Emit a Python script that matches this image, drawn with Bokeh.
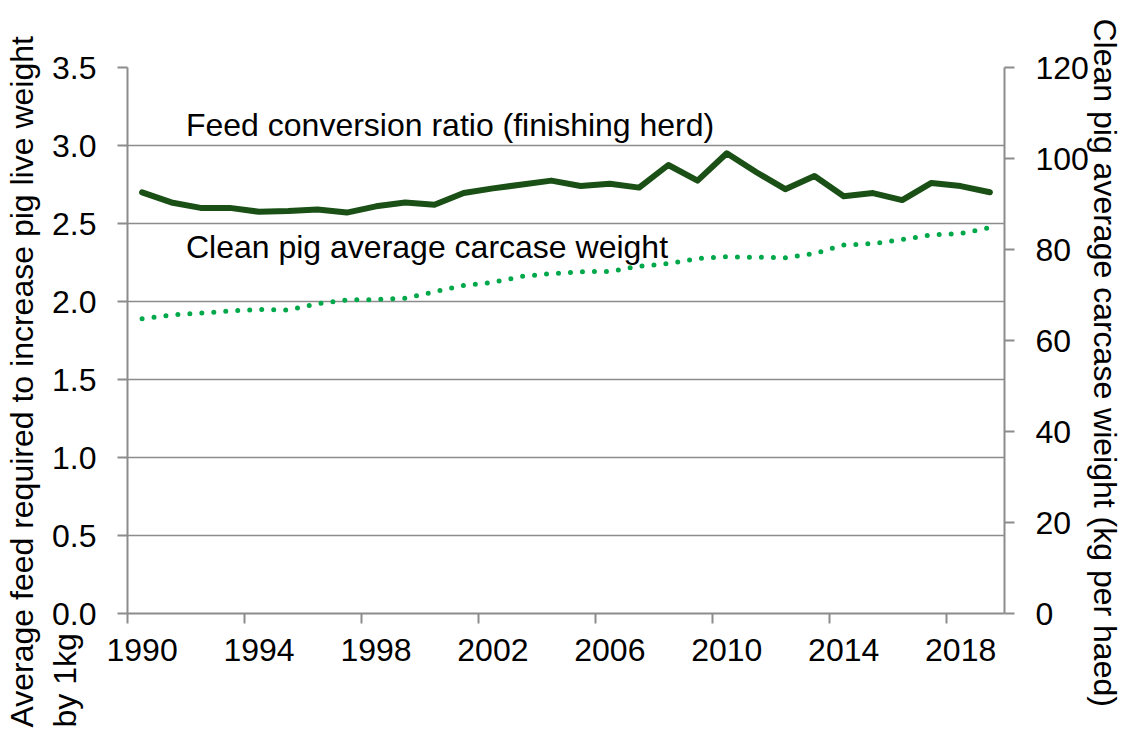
from bokeh.plotting import figure
from bokeh.models import Range1d, LinearAxis, FixedTicker, Label, NumeralTickFormatter, Title
from bokeh.embed import file_html
from bokeh.resources import INLINE

# ---------------- data ----------------
years = list(range(1990, 2020))
fcr = [2.70, 2.635, 2.60, 2.60, 2.575, 2.58, 2.59, 2.57, 2.61, 2.635,
       2.62, 2.695, 2.725, 2.75, 2.775, 2.74, 2.755, 2.73, 2.875, 2.775,
       2.95, 2.83, 2.72, 2.805, 2.675, 2.695, 2.65, 2.76, 2.74, 2.70]
carcase_weight = [64.8, 65.6, 66.0, 66.5, 66.8, 66.7, 68.1, 68.9, 69.0, 69.3,
                  70.7, 72.1, 72.8, 74.1, 74.7, 75.1, 75.2, 76.3, 76.9, 78.0,
                  78.4, 78.3, 78.2, 79.1, 81.0, 81.3, 82.2, 83.2, 83.5, 84.8]
x_tick_years = [1990, 1994, 1998, 2002, 2006, 2010, 2014, 2018]
left_ticks = [0.0, 0.5, 1.0, 1.5, 2.0, 2.5, 3.0, 3.5]
right_ticks = [0, 20, 40, 60, 80, 100, 120]

fcr_label = "Feed conversion ratio (finishing herd)"
cw_label = "Clean pig average carcase weight"
left_title_1 = "Average feed required to increase pig live weight"
left_title_2 = "by 1kg"
right_title = "Clean pig average carcase wieight (kg per haed)"

# ---------------- style ----------------
FONT = "Liberation Sans"
GREY = "#8c8c8c"
DARK = "#1a5016"
BRIGHT = "#00a84a"
TICK_FS = "32px"
TEXT_FS = "32px"
TITLE_FS = "32px"

# category centres (date axis, points between tick marks)
x_pos = [y + 0.5 for y in years]

p = figure(frame_width=877, frame_height=546,
           x_range=Range1d(1990, 2020), y_range=Range1d(0, 3.5),
           output_backend="svg", toolbar_location=None,
           x_axis_location=None, y_axis_location=None,
           min_border_left=127, min_border_right=122,
           min_border_top=67, min_border_bottom=116)
p.extra_y_ranges = {"cw": Range1d(0, 120)}
p.outline_line_color = None
p.background_fill_color = "white"
p.border_fill_color = "white"

p.xgrid.visible = False
p.ygrid.ticker = FixedTicker(ticks=left_ticks)
p.ygrid.grid_line_color = GREY
p.ygrid.grid_line_width = 1.5


def style_axis(ax):
    ax.axis_line_color = GREY
    ax.axis_line_width = 2
    ax.major_tick_line_color = GREY
    ax.major_tick_line_width = 2
    ax.major_tick_in = 0
    ax.major_tick_out = 10
    ax.minor_tick_line_color = None
    ax.major_label_text_font = FONT
    ax.major_label_text_font_size = TICK_FS
    ax.major_label_text_color = "black"


def make_title(text, **kw):
    return Title(text=text, text_font=FONT, text_font_size=TITLE_FS,
                 text_font_style="normal", text_color="black", **kw)


# left axis
yax = LinearAxis(ticker=FixedTicker(ticks=left_ticks),
                 formatter=NumeralTickFormatter(format="0.0"))
style_axis(yax)
yax.major_label_standoff = 21
p.add_layout(yax, "left")

# left axis title (two lines, both starting at the bottom)
p.add_layout(make_title(left_title_1 + "\n" + left_title_2, align="left",
                        vertical_align="bottom", offset=-114, standoff=-68,
                        text_line_height=1.2), "left")

# right axis
yax2 = LinearAxis(y_range_name="cw", ticker=FixedTicker(ticks=right_ticks))
style_axis(yax2)
yax2.major_label_standoff = 21
p.add_layout(yax2, "right")
p.add_layout(make_title(right_title, align="left", vertical_align="top",
                        offset=-49, standoff=-13), "right")

# bottom axis: tick marks at year boundaries (no labels)
xax1 = LinearAxis(ticker=FixedTicker(ticks=x_tick_years))
style_axis(xax1)
xax1.major_label_text_font_size = "1px"
xax1.major_label_text_color = None
xax1.major_label_standoff = 0
p.add_layout(xax1, "below")

# bottom axis: labels centred on the year
label_pos = [y + 0.5 for y in x_tick_years]
xax2 = LinearAxis(ticker=FixedTicker(ticks=label_pos),
                  major_label_overrides={lp: str(y) for lp, y in zip(label_pos, x_tick_years)})
style_axis(xax2)
xax2.axis_line_color = None
xax2.major_tick_line_color = None
xax2.major_tick_out = 0
xax2.major_label_standoff = 15
p.add_layout(xax2, "below")

# series
p.line(x_pos, fcr, line_color=DARK, line_width=6,
       line_join="round", line_cap="round")
p.line(x_pos, carcase_weight, y_range_name="cw", line_color=BRIGHT, line_width=5,
       line_dash="0 12", line_cap="round")

# in-plot labels
p.add_layout(Label(x=1992.0, y=3.13, text=fcr_label, text_font=FONT,
                   text_font_size=TEXT_FS, text_color="black",
                   text_baseline="middle", text_align="left"))
p.add_layout(Label(x=1992.0, y=2.35, text=cw_label, text_font=FONT,
                   text_font_size=TEXT_FS, text_color="black",
                   text_baseline="middle", text_align="left"))

open("out.html", "w").write(file_html(p, INLINE))
